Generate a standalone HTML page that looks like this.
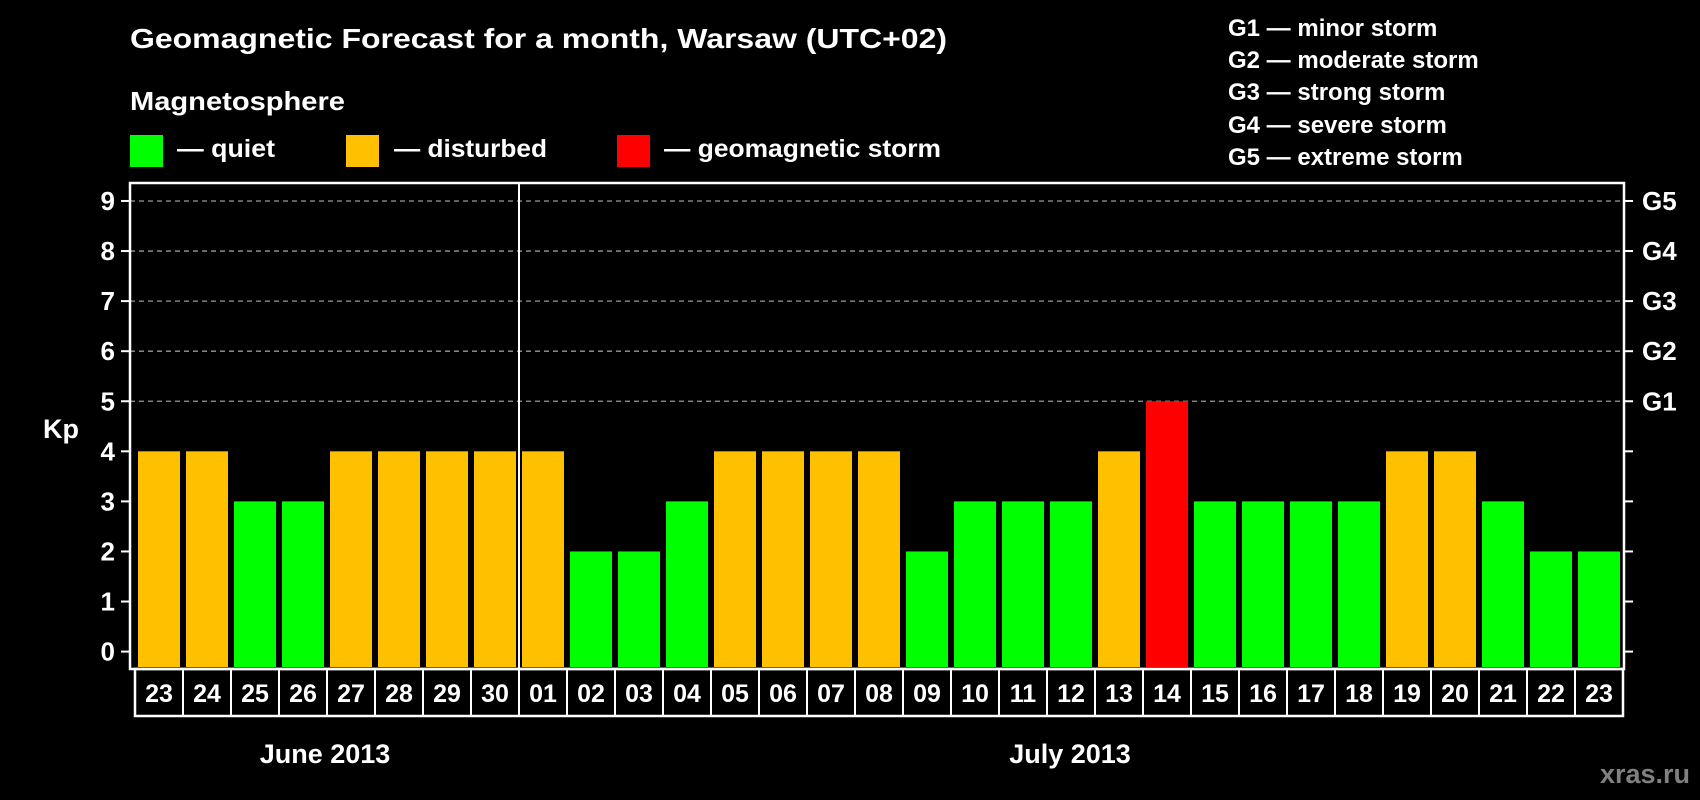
<!DOCTYPE html>
<html><head><meta charset="utf-8">
<style>
html,body{margin:0;padding:0;background:#000;}
svg{display:block;font-family:"Liberation Sans",Arial,sans-serif;font-weight:bold;}
</style></head>
<body>
<svg id="chart" width="1700" height="800" viewBox="0 0 1700 800" xmlns="http://www.w3.org/2000/svg">
<rect width="1700" height="800" fill="#000"/>
<text x="130" y="48" fill="#fff" font-size="28" textLength="817" lengthAdjust="spacingAndGlyphs">Geomagnetic Forecast for a month, Warsaw (UTC+02)</text>
<text x="130" y="110" fill="#fff" font-size="26" textLength="215" lengthAdjust="spacingAndGlyphs">Magnetosphere</text>
<g>
<rect x="130" y="135" width="33" height="32" fill="#00ff00"/>
<text x="177" y="157" fill="#fff" font-size="25" textLength="98" lengthAdjust="spacingAndGlyphs">— quiet</text></g>
<g>
<rect x="346" y="135" width="33" height="32" fill="#ffc000"/>
<text x="394" y="157" fill="#fff" font-size="25" textLength="153" lengthAdjust="spacingAndGlyphs">— disturbed</text></g>
<g>
<rect x="617" y="135" width="33" height="32" fill="#ff0000"/>
<text x="664" y="157" fill="#fff" font-size="25" textLength="277" lengthAdjust="spacingAndGlyphs">— geomagnetic storm</text></g>
<g fill="#fff" font-size="24">
<text x="1228" y="36">G1 — minor storm</text>
<text x="1228" y="68">G2 — moderate storm</text>
<text x="1228" y="100">G3 — strong storm</text>
<text x="1228" y="133">G4 — severe storm</text>
<text x="1228" y="165">G5 — extreme storm</text>
</g>
<g id="plot"></g>
<text x="43" y="438" fill="#fff" font-size="27">Kp</text>
<text x="325" y="763" fill="#fff" font-size="27" text-anchor="middle">June 2013</text>
<text x="1070" y="763" fill="#fff" font-size="27" text-anchor="middle">July 2013</text>
<text x="1690" y="783" fill="#808080" font-size="27" text-anchor="end">xras.ru</text>
</svg>
<script>
const days = ["23","24","25","26","27","28","29","30","01","02","03","04","05","06","07","08","09","10","11","12","13","14","15","16","17","18","19","20","21","22","23"];
const kpValues = [4,4,3,3,4,4,4,4,4,2,2,3,4,4,4,4,2,3,3,3,4,5,3,3,3,3,4,4,3,2,2];
const yTicks = [0,1,2,3,4,5,6,7,8,9];
const gLabels = ["","","","","","G1","G2","G3","G4","G5"];
const monthSplit = 8;

const NS="http://www.w3.org/2000/svg";
const plot=document.getElementById('plot');
const X0=130, X1=1624, TOP=183, BOT=669, CELL=48;
const Y0=651.6, UNIT=50.07;
function y(v){return Y0-v*UNIT;}
function xc(i){return X0+5+CELL*i;}
function mk(tag,attrs,parent){const e=document.createElementNS(NS,tag);for(const k in attrs)e.setAttribute(k,attrs[k]);(parent||plot).appendChild(e);return e;}
function color(v){return v>=5?'#ff0000':(v>=4?'#ffc000':'#00ff00');}

// gridlines
yTicks.forEach(t=>{
  if(t>=5){const g=mk('line',{x1:X0,x2:X1,y1:y(t),y2:y(t),stroke:'#999','stroke-width':1.3,'stroke-dasharray':'5,4'});
  
  }
  const tl=mk('line',{x1:X0-9,x2:X0,y1:y(t),y2:y(t),stroke:'#fff','stroke-width':2});
  
  
  const tr=mk('line',{x1:X1,x2:X1+9,y1:y(t),y2:y(t),stroke:'#fff','stroke-width':2});
  
  
  const lab=mk('text',{x:115,y:y(t)+9,fill:'#fff','font-size':26,'text-anchor':'end'});
  lab.textContent=t;
  
  
  if(gLabels[t]){const gl=mk('text',{x:1642,y:y(t)+9,fill:'#fff','font-size':26});
  gl.textContent=gLabels[t];
  
  }
});
// bars
kpValues.forEach((v,i)=>{
  const b=mk('rect',{x:xc(i)+3,y:y(v),width:42,height:Y0+15.4-y(v),fill:color(v)});
  
  
});
// frame
const fr=mk('rect',{x:X0,y:TOP,width:X1-X0,height:BOT-TOP,fill:'none',stroke:'#fff','stroke-width':2.5});


const ms=mk('line',{x1:X0+CELL*monthSplit+5,x2:X0+CELL*monthSplit+5,y1:TOP,y2:BOT,stroke:'#fff','stroke-width':2});


// date row
const row=mk('rect',{x:135,y:BOT,width:CELL*days.length,height:47,fill:'none',stroke:'#fff','stroke-width':2.5});


days.forEach((d,i)=>{
  if(i>0){const s=mk('line',{x1:135+CELL*i,x2:135+CELL*i,y1:BOT,y2:BOT+47,stroke:'#fff','stroke-width':2});
  
  }
  const t=mk('text',{x:135+CELL*i+CELL/2,y:BOT+33,fill:'#fff','font-size':25,'text-anchor':'middle'});
  t.textContent=d;
  
  
});
</script>
</body></html>
